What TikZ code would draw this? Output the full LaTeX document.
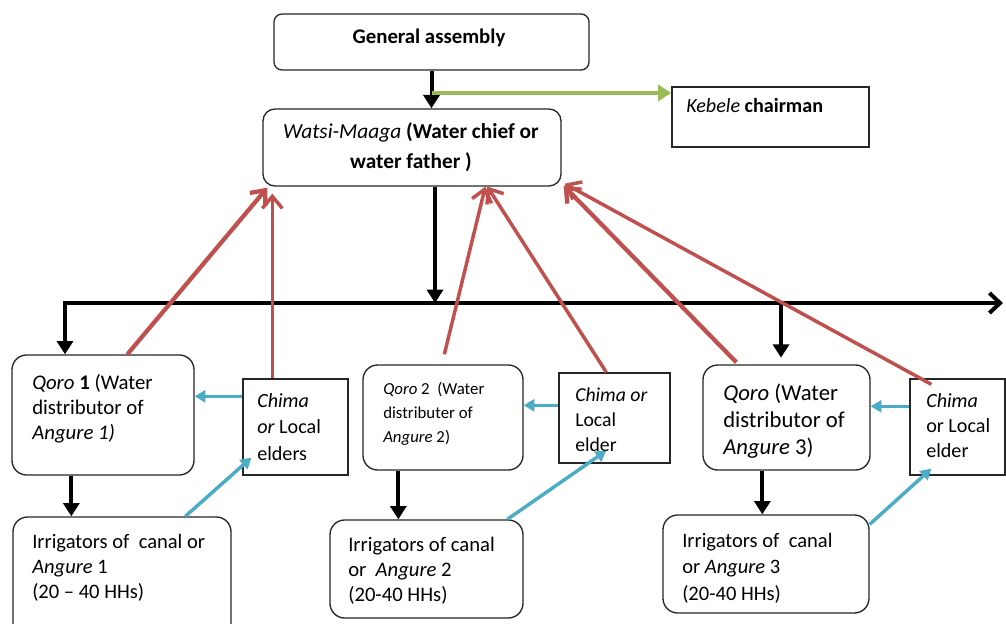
\documentclass[tikz,border=0pt]{standalone}
\usepackage{fontspec}
\setmainfont{Carlito}
\usetikzlibrary{arrows.meta,fit,calc}
\definecolor{redc}{HTML}{C0504D}
\definecolor{bluec}{HTML}{4BACC6}
\definecolor{greenc}{HTML}{9BBB59}
\begin{document}
\begin{tikzpicture}[x=0.75pt,y=-0.75pt,
  rbox/.style={draw=black!85, line width=1pt, rounded corners=#1, inner sep=0pt, fill=white},
  rbox/.default=10pt,
  sbox/.style={draw=black!85, line width=1pt, inner sep=0pt, fill=white},
  txt/.style={anchor=base west, inner sep=0pt},
  ctxt/.style={anchor=base, inner sep=0pt},
  bk/.style={draw=black, line width=3pt, -{Triangle[length=10pt,width=12pt]}},
  rd/.style={draw=redc, line width=2.6pt, -{Straight Barb[length=9pt,width=15pt]}},
  bl/.style={draw=bluec, line width=2.6pt, -{Triangle[length=8pt,width=9pt]}},
  gr/.style={draw=greenc, line width=3.2pt, -{Triangle[length=10pt,width=12pt]}},
]
\useasboundingbox (0,0) rectangle (1006,624);
\clip (0,0) rectangle (1006,624);

% ---------- boxes ----------
\node[rbox=6pt, fit={(274,14) (589,70)}] (ga) {};
\node[rbox=9pt, fit={(263,109) (561,186)}] (wm) {};
\node[sbox, fit={(672,87) (869,147)}] (kb) {};

\node[rbox=11pt, fit={(12,355) (194,475)}] (q1) {};
\node[sbox, fit={(243,379) (348,475)}] (c1) {};
\node[rbox=11pt, fit={(13,517) (231,640)}] (i1) {};

\node[rbox=11pt, fit={(363,365) (523,470)}] (q2) {};
\node[sbox, fit={(559,373) (670,463)}] (c2) {};
\node[rbox=11pt, fit={(330,520) (523,618)}] (i2) {};

\node[rbox=11pt, fit={(703,365) (870,470)}] (q3) {};
\node[sbox, fit={(910,379) (1005,475)}] (c3) {};
\node[rbox=11pt, fit={(663,515) (869,613)}] (i3) {};

% ---------- texts ----------
\node[ctxt, font=\fontsize{15.6}{20}\selectfont] (tga) at (429,44) {\textbf{General assembly}};
\node[ctxt, font=\fontsize{16}{21.8}\selectfont] (twm) at (411,139)
  {\begin{tabular}[t]{@{}c@{}}\textit{Watsi-Maaga} \textbf{(Water chief or}\\ \textbf{water father )}\end{tabular}};
\node[txt, font=\fontsize{15.1}{19}\selectfont] (tkb) at (686,113) {\textit{Kebele} \textbf{chairman}};

\node[txt, font=\fontsize{15.6}{18.9}\selectfont] (tq1) at (32,389)
  {\begin{tabular}[t]{@{}l@{}}\textit{Qoro} \textbf{1} (Water\\ distributor of\\ \textit{Angure 1)}\end{tabular}};
\node[txt, font=\fontsize{15.1}{19.9}\selectfont] (tc1) at (257,407)
  {\begin{tabular}[t]{@{}l@{}}\textit{Chima}\\ \textit{or} Local\\ elders\end{tabular}};
\node[txt, font=\fontsize{15.4}{18.8}\selectfont] (ti1) at (32,548)
  {\begin{tabular}[t]{@{}l@{}}Irrigators of\ \ canal or\\ \textit{Angure} 1\\ (20 – 40 HHs)\end{tabular}};

\node[txt, font=\fontsize{12.6}{18}\selectfont] (tq2) at (383,394)
  {\begin{tabular}[t]{@{}l@{}}\textit{Qoro} 2\ \ (Water\\ distributer of\\ \textit{Angure} 2)\end{tabular}};
\node[txt, font=\fontsize{14.8}{18.8}\selectfont] (tc2) at (575,401)
  {\begin{tabular}[t]{@{}l@{}}\textit{Chima or}\\ Local\\ elder\end{tabular}};
\node[txt, font=\fontsize{15.5}{18.8}\selectfont] (ti2) at (348,551)
  {\begin{tabular}[t]{@{}l@{}}Irrigators of canal\\ or\ \ \textit{Angure} 2\\ (20-40 HHs)\end{tabular}};

\node[txt, font=\fontsize{17}{20.3}\selectfont] (tq3) at (723,400)
  {\begin{tabular}[t]{@{}l@{}}\textit{Qoro} (Water\\ distributor of\\ \textit{Angure} 3)\end{tabular}};
\node[txt, font=\fontsize{15.1}{18.8}\selectfont] (tc3) at (926,407)
  {\begin{tabular}[t]{@{}l@{}}\textit{Chima}\\ or Local\\ elder\end{tabular}};
\node[txt, font=\fontsize{15.4}{20}\selectfont] (ti3) at (682,547)
  {\begin{tabular}[t]{@{}l@{}}Irrigators of\ \ canal\\ or \textit{Angure} 3\\ (20-40 HHs)\end{tabular}};

% ---------- black hierarchy ----------
\draw[bk] (ga.south) -- (ga.south |- wm.north);
\coordinate (j) at ($(ga.south)!0.59!(ga.south |- wm.north)$);
\draw[gr] (j) -- (j -| kb.west);

\coordinate (hl) at (65,303);
\coordinate (hr) at (1003,303);
\coordinate (hm) at (781,303);
\draw[bk] ($(wm.south)+(23,0)$) coordinate (ws) -- (ws |- hl);
\draw[draw=black, line width=3pt, line join=miter,
      {Triangle[length=10pt,width=12pt]}-{Straight Barb[length=8pt,width=15pt]}]
      (hl |- q1.north) -- (hl) -- (hr);
\draw[bk, shorten >=5pt] (hm) -- (hm |- q3.north);

\draw[bk] ($(q1.south west)+(60,0)$) coordinate (a1) -- (a1 |- i1.north);
\draw[bk] ($(q2.south west)+(36,0)$) coordinate (a2) -- (a2 |- i2.north);
\draw[bk] ($(q3.south west)+(60,0)$) coordinate (a3) -- (a3 |- i3.north);

% ---------- blue ----------
\draw[bl] ($(c1.north west)+(0,18)$) coordinate (b1) -- (b1 -| q1.east);
\draw[bl] ($(c2.north west)+(0,33)$) coordinate (b2) -- (b2 -| q2.east);
\draw[bl] ($(c3.north west)+(0,28)$) coordinate (b3) -- (b3 -| q3.east);

\draw[bl] ($(i1.north west)+(173,0)$) -- ($(c1.south west)+(9,-18)$);
\draw[bl] ($(i2.north west)+(178,0)$) -- ($(c2.south west)+(48,-13)$);
\draw[bl] ($(i3.north east)+(0,10)$) -- ($(c3.south west)+(22,-7)$);

% ---------- red ----------
\draw[rd, line width=3.2pt] ($(q1.north west)+(116,0)$) -- ($(wm.south west)+(5,1)$);
\draw[rd] ($(c1.north west)+(30,0)$) -- ($(wm.south west)+(10,7)$);
\draw[rd] ($(q2.north west)+(82,-10)$) -- ($(wm.south west)+(223,0)$);
\draw[rd] ($(c2.north west)+(48,0)$) -- ($(wm.south west)+(225,0)$);
\draw[rd, line width=3.2pt] ($(q3.north west)+(34,-2)$) -- ($(wm.south east)+(2,-1)$);
\draw[rd] ($(c3.north west)+(22,6)$) -- ($(wm.south east)+(3,-3)$);
\end{tikzpicture}
\end{document}
